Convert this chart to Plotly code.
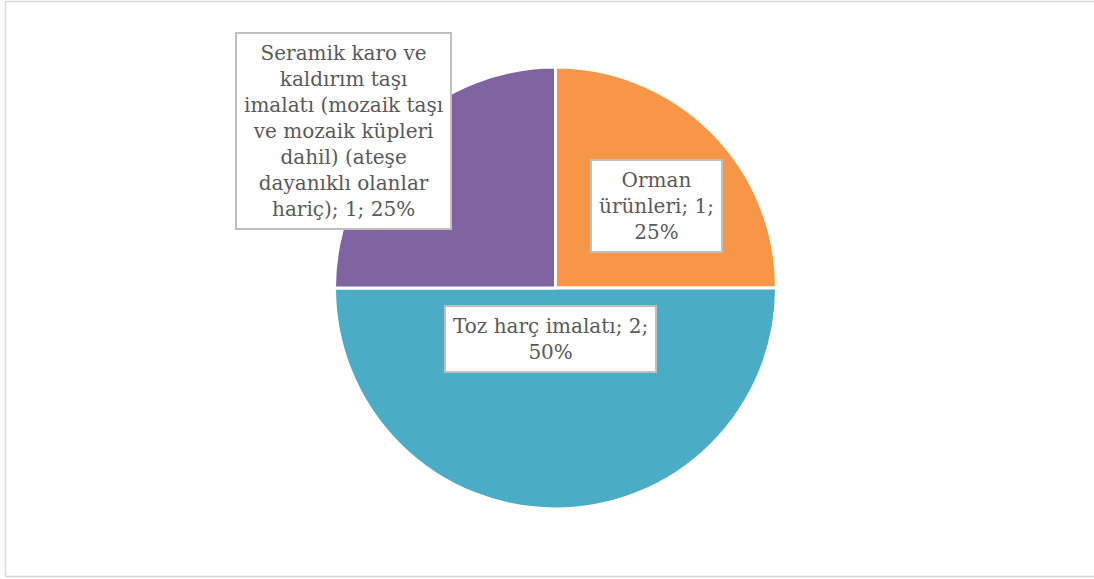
import plotly.graph_objects as go

# podaci
labels = ['Orman ürünleri', 'Toz harç imalatı',
          'Seramik karo ve kaldırım taşı imalatı (mozaik taşı ve mozaik küpleri dahil) (ateşe dayanıklı olanlar hariç)']
values = [1, 2, 1]
colors = ['#F79646', '#4BACC6', '#8064A2']

# etiketlerin satır kırılımları (Excel'deki gibi)
wrapped = [
    'Orman<br>ürünleri; {v};<br>{p}%',
    'Toz harç imalatı; {v};<br>{p}%',
    'Seramik karo ve<br>kaldırım taşı<br>imalatı (mozaik taşı<br>ve mozaik küpleri<br>dahil) (ateşe<br>dayanıklı olanlar<br>hariç); {v}; {p}%',
]

W, H = 1094, 579
L, R, T, B = 334, 777, 67, 509  # pie alanı (px)


def px(x, y):
    return (x - L) / (R - L), (B - y) / (B - T)


total = sum(values)
pcts = [round(v * 100 / total) for v in values]

fig = go.Figure(go.Pie(
    labels=labels,
    values=values,
    marker=dict(colors=colors, line=dict(color='white', width=3)),
    sort=False,
    direction='clockwise',
    textinfo='none',
    hoverinfo='label+value+percent',
    showlegend=False,
))

# etiket kutuları
label_pos = [(656, 206), (550, 339), (343, 131)]
for txt, v, p, (cx, cy) in zip(wrapped, values, pcts, label_pos):
    ax, ay = px(cx, cy)
    fig.add_annotation(
        x=ax, y=ay, xref='paper', yref='paper',
        xanchor='center', yanchor='middle',
        text=txt.format(v=v, p=p),
        showarrow=False,
        font=dict(family='DejaVu Serif', size=20, color='#595959'),
        bgcolor='white', bordercolor='#BFBFBF', borderwidth=2, borderpad=7,
        align='center',
    )

# dış çerçeve
x0, y0 = px(5.5, 1.5)
x1, y1 = px(1130, 576.5)
fig.add_shape(type='rect', xref='paper', yref='paper', x0=x0, y0=y0, x1=x1, y1=y1,
              line=dict(color='#D9D9D9', width=1.5))

fig.update_layout(
    width=W, height=H,
    margin=dict(l=L, r=W - R, t=T, b=H - B),
    paper_bgcolor='white',
    plot_bgcolor='white',
)

fig.write_html('out.html', config={'displayModeBar': False},
               post_script="document.body.style.margin='0';")
